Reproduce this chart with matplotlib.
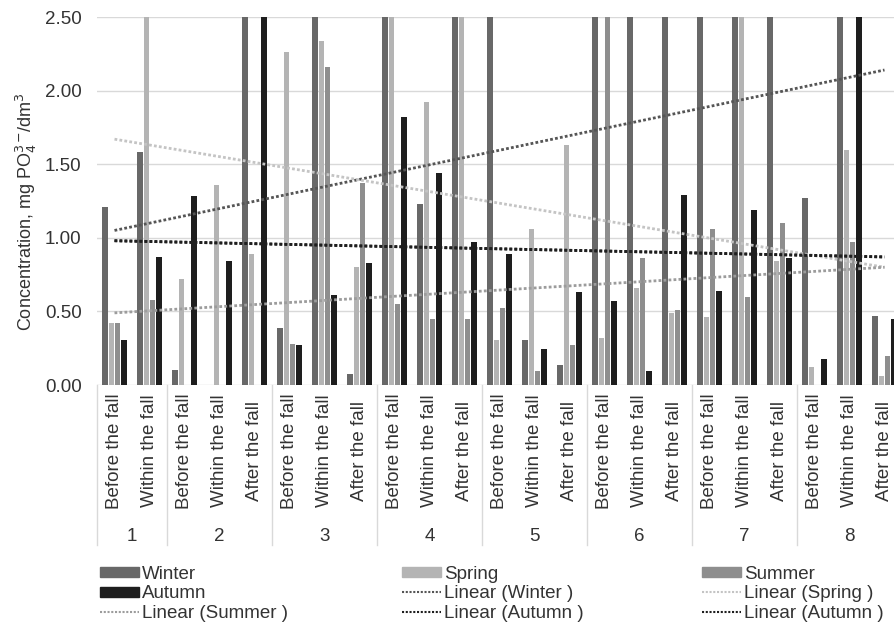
import matplotlib
matplotlib.use("Agg")
import matplotlib.pyplot as plt
import matplotlib.transforms as mtrans
from matplotlib.patches import Patch
from matplotlib.lines import Line2D
import numpy as np

plt.rcParams['font.family'] = ['Liberation Sans', 'DejaVu Sans']

# sites and the periods sampled at each of them
sites = ['1', '2', '3', '4', '5', '6', '7', '8']
site_periods = [
    ['Before the fall', 'Within the fall'],
    ['Before the fall', 'Within the fall', 'After the fall'],
    ['Before the fall', 'Within the fall', 'After the fall'],
    ['Before the fall', 'Within the fall', 'After the fall'],
    ['Before the fall', 'Within the fall', 'After the fall'],
    ['Before the fall', 'Within the fall', 'After the fall'],
    ['Before the fall', 'Within the fall', 'After the fall'],
    ['Before the fall', 'Within the fall', 'After the fall'],
]

# concentrations, mg PO4/dm3 (values above 2.5 are cut off in the picture)
winter = [1.21, 1.58, 0.10, 0.0, 3.2, 0.39, 2.9, 0.075, 3.1, 1.23, 2.8, 3.0,
          0.305, 0.135, 3.3, 2.9, 3.4, 3.0, 3.6, 3.2, 1.27, 3.8, 0.47]
spring = [0.42, 2.7, 0.72, 1.36, 0.89, 2.26, 2.34, 0.80, 2.6, 1.92, 2.7, 0.305,
          1.06, 1.63, 0.32, 0.66, 0.49, 0.46, 2.6, 0.84, 0.125, 1.595, 0.06]
summer = [0.42, 0.58, 0.0, 0.0, 0.0, 0.28, 2.16, 1.37, 0.55, 0.45, 0.45, 0.52,
          0.095, 0.27, 2.7, 0.86, 0.51, 1.06, 0.60, 1.10, 0.0, 0.97, 0.20]
autumn = [0.305, 0.87, 1.285, 0.845, 2.8, 0.27, 0.61, 0.83, 1.82, 1.44, 0.97, 0.89,
          0.245, 0.63, 0.57, 0.095, 1.29, 0.64, 1.19, 0.86, 0.175, 2.7, 0.45]

# linear trendlines: value at first and last category
trend_winter = [1.05, 2.14]
trend_spring = [1.67, 0.80]
trend_summer = [0.49, 0.80]
trend_autumn = [0.98, 0.87]

c_winter = '#686868'
c_spring = '#b4b4b4'
c_summer = '#8e8e8e'
c_autumn = '#1e1e1e'

periods = [p for grp in site_periods for p in grp]
x = np.arange(len(periods))

fig = plt.figure(figsize=(8.95, 6.28), dpi=100)
ax = fig.add_axes([97/895, 1-385/628, 805/895, 368/628])

w = 0.15
step = 0.18
series = [(winter, c_winter, 'Winter'), (spring, c_spring, 'Spring'),
          (summer, c_summer, 'Summer'), (autumn, c_autumn, 'Autumn')]
for i, (vals, col, name) in enumerate(series):
    ax.bar(x + (i - 1.5)*step, vals, width=w, color=col, zorder=2)

xt = [x[0], x[-1]]
ax.plot(xt, trend_winter, color='#555555', lw=2, dashes=(1, 0.8), zorder=3)
ax.plot(xt, trend_spring, color='#c4c4c4', lw=2, dashes=(1, 0.8), zorder=3)
ax.plot(xt, trend_summer, color='#9c9c9c', lw=2, dashes=(1, 0.8), zorder=3)
ax.plot(xt, trend_autumn, color='#1e1e1e', lw=2, dashes=(1, 0.8), zorder=3)
ax.plot(xt, trend_autumn, color='#1e1e1e', lw=2, dashes=(1, 0.8), zorder=3)

ax.set_ylim(0, 2.5)
ax.set_xlim(-0.5, len(periods) - 0.5)
ax.set_yticks(np.arange(0, 2.51, 0.5))
ax.set_yticklabels(['%.2f' % v for v in np.arange(0, 2.51, 0.5)], fontsize=13.5, color='#333333')
ax.tick_params(axis='y', length=0, pad=11)
ax.set_xticks([])
ax.grid(axis='y', color='#d9d9d9', lw=1, zorder=0)
for s in ax.spines.values():
    s.set_visible(False)

# two level category axis
trans = mtrans.blended_transform_factory(ax.transData, ax.transAxes)
for xi, lab in zip(x, periods):
    ax.text(xi, -0.179, lab, rotation=90, ha='center', va='center',
            fontsize=13.5, color='#333333', transform=trans)
start = 0
bounds = [-0.5]
for s, grp in zip(sites, site_periods):
    n = len(grp)
    ax.text(start + (n - 1)/2, -0.413, s, ha='center', va='center',
            fontsize=13.5, color='#333333', transform=trans)
    start += n
    bounds.append(start - 0.5)
for b in bounds:
    ax.plot([b, b], [0, -0.435], color='#d9d9d9', lw=1, transform=trans, clip_on=False)

fig.text(26/895, 1-212/628, r'Concentration, mg PO$_4^{3-}\!$/dm$^3$', rotation=90,
         ha='center', va='center', fontsize=13, color='#333333')

# legend in three columns, filled row by row
cols = [
    [Patch(color=c_winter, label='Winter'), Patch(color=c_autumn, label='Autumn'),
     Line2D([], [], color='#9c9c9c', lw=1.5, dashes=(1, 0.8), label='Linear (Summer )')],
    [Patch(color=c_spring, label='Spring'),
     Line2D([], [], color='#555555', lw=1.5, dashes=(1, 0.8), label='Linear (Winter )'),
     Line2D([], [], color='#1e1e1e', lw=1.5, dashes=(1, 0.8), label='Linear (Autumn )')],
    [Patch(color=c_summer, label='Summer'),
     Line2D([], [], color='#c4c4c4', lw=1.5, dashes=(1, 0.8), label='Linear (Spring )'),
     Line2D([], [], color='#1e1e1e', lw=1.5, dashes=(1, 0.8), label='Linear (Autumn )')],
]
for hx, hs in zip([100, 402, 702], cols):
    fig.legend(handles=hs, loc='upper left', bbox_to_anchor=(hx/895, 1-566/628),
               frameon=False, fontsize=13.5, handlelength=2.1, handleheight=0.45,
               handletextpad=0.15, labelspacing=0.12, borderpad=0, borderaxespad=0,
               labelcolor='#333333')

fig.savefig('out.png', dpi=100)
